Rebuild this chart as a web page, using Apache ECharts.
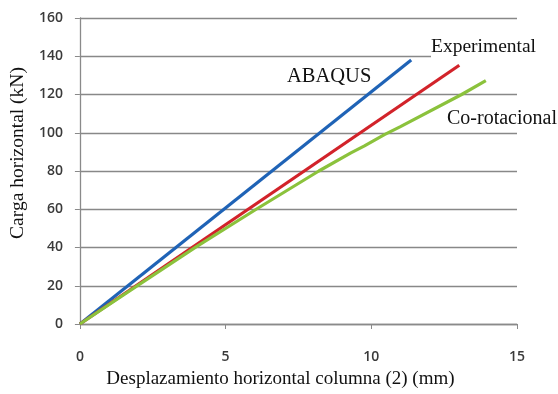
<!DOCTYPE html>
<html><head><meta charset="utf-8">
<script src="https://cdn.jsdelivr.net/npm/echarts@6/dist/echarts.min.js"></script>
<style>html,body{margin:0;padding:0;background:#fff}#c{width:558px;height:394px}</style>
</head><body><div id="c"></div>
<script>
const xTicks = [0, 5, 10, 15];
const yTicks = [0, 20, 40, 60, 80, 100, 120, 140, 160];
const abaqus = [[0, 0], [11.37, 138]];
const experimental = [[0, 0], [13.02, 135.3]];
const corotacional = [[0, 0], [2, 20.3], [4, 40.5], [6.05, 60], [8.2, 80], [9.3, 89.5], [9.75, 93], [10.45, 99], [11, 103.2], [13.1, 120], [13.93, 127.2]];
const seriesNames = ['ABAQUS', 'Experimental', 'Co-rotacional'];
const xTitle = 'Desplazamiento horizontal columna (2) (mm)';
const yTitle = 'Carga horizontal (kN)';

const chart = echarts.init(document.getElementById('c'), null, {renderer: 'canvas'});
const tickFont = {fontFamily: 'Open Sans', fontWeight: 600, fontSize: 14, color: '#3a3a3a'};
const serif = 'Liberation Serif';
function mkLine(name, data, color) {
  return {type: 'line', name, data, showSymbol: false, symbol: 'none', animation: false,
    lineStyle: {color, width: 3.2}, z: 3};
}
chart.setOption({
  animation: false,
  grid: {left: 79, right: 41, top: 18, bottom: 65},
  xAxis: {type: 'value', min: xTicks[0], max: xTicks[xTicks.length - 1], interval: 5,
    axisLine: {show: true, lineStyle: {color: '#8a8a8a', width: 1.3}},
    axisTick: {show: true, length: 5, inside: false, lineStyle: {color: '#8a8a8a'}},
    splitLine: {show: false},
    axisLabel: Object.assign({margin: 26}, tickFont),
    name: xTitle, nameLocation: 'middle', nameGap: 46,
    nameTextStyle: {fontFamily: serif, fontSize: 19, color: '#111', padding: [0, 36, 0, 0]}},
  yAxis: {type: 'value', min: yTicks[0], max: yTicks[yTicks.length - 1], interval: 20,
    axisLine: {show: true, lineStyle: {color: '#8a8a8a', width: 1.3}},
    axisTick: {show: true, length: 5, lineStyle: {color: '#8a8a8a'}},
    splitLine: {show: true, lineStyle: {color: '#888888', width: 1.3}},
    axisLabel: Object.assign({margin: 17}, tickFont),
    name: yTitle, nameLocation: 'middle', nameGap: 47, nameRotate: 90,
    nameTextStyle: {fontFamily: serif, fontSize: 19.5, color: '#111', padding: [0, 0, 0, 36]}},
  series: [
    mkLine(seriesNames[0], abaqus, '#1f63b6'),
    mkLine(seriesNames[1], experimental, '#d2232a'),
    mkLine(seriesNames[2], corotacional, '#8bc23c')
  ],
  graphic: [
    {type: 'text', left: 287, top: 66, z: 10, style: {text: seriesNames[0], fontFamily: serif, fontSize: 20.5, fill: '#111'}},
    {type: 'text', left: 431, top: 35, z: 10, style: {text: seriesNames[1], fontFamily: serif, fontSize: 19.5, fill: '#111', backgroundColor: '#fff', padding: [2, 2, 2, 0]}},
    {type: 'text', left: 447, top: 109, z: 10, style: {text: seriesNames[2], fontFamily: serif, fontSize: 20, fill: '#111'}}
  ]
});
</script></body></html>
